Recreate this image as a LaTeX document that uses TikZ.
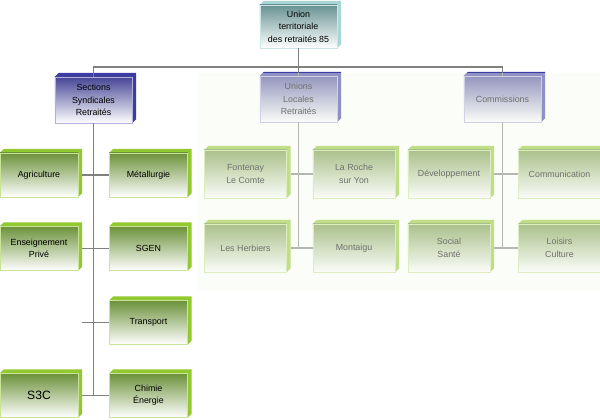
\documentclass[tikz,border=0pt]{standalone}
\usepackage{fontspec}
\setmainfont{Liberation Sans}
\usepackage{tikz}
\usetikzlibrary{positioning}

\definecolor{grtop}{RGB}{108,146,58}
\definecolor{grside}{RGB}{146,200,48}
\definecolor{bltop}{RGB}{70,70,150}
\definecolor{blside}{RGB}{60,60,165}
\definecolor{tltop}{RGB}{104,146,146}
\definecolor{tlside}{RGB}{168,214,214}
\definecolor{linegray}{RGB}{128,128,128}
\definecolor{fadetint}{RGB}{246,250,240}

\tikzset{
	face/.style={append after command={\pgfextra{
		\fill[#1] (\tikzlastnode.north west) -- ++(4,-4)
			-- ([shift={(4,-4)}]\tikzlastnode.north east)
			-- ([shift={(4,-4)}]\tikzlastnode.south east)
			-- (\tikzlastnode.south east) -- (\tikzlastnode.north east) -- cycle;}}},
	box/.style={align=center, inner sep=1pt,
		font=\fontsize{6.3}{8.8}\selectfont},
	greenbox/.style={box, minimum width=1.95cm, minimum height=1.1cm,
		top color=grtop, bottom color=white, draw=grside!50, line width=0.3pt, face=grside},
	greenboxwide/.style={greenbox, minimum width=2.05cm, minimum height=1.2cm},
	bluebox/.style={box, minimum width=1.925cm, minimum height=1.15cm,
		top color=bltop, bottom color=white, draw=blside!40, line width=0.3pt, face=blside},
	topbox/.style={box, minimum width=1.925cm, minimum height=1.075cm,
		top color=tltop, bottom color=white, draw=tlside!60, line width=0.3pt, face=tlside},
	link/.style={draw=linegray, line width=1.1pt}
}

\begin{document}
\begin{tikzpicture}[x=0.025cm,y=-0.025cm]
		\useasboundingbox (0,0) rectangle (600,420);
		\clip (0,0) rectangle (600,420);

		% head and the three branches
		\node[topbox] (union) at (298.5,26.5) {Union\\territoriale\\des retraités 85};
		\node[bluebox] (sections) at (93.5,100) {Sections\\Syndicales\\Retraités};
		\node[bluebox] (unions) at (298.5,99) {Unions\\Locales\\Retraités};
		\node[bluebox] (commissions) at (502.5,99) {Commissions};

		% sections syndicales
		\node[greenbox] (agri) at (39,175) {Agriculture};
		\node[greenbox] (metal) at (148.5,175) {Métallurgie};
		\node[greenbox] (ensei) at (39,248.5) {Enseignement\\Privé};
		\node[greenbox] (sgen) at (148.5,248.5) {SGEN};
		\node[greenbox] (trans) at (148.5,322.5) {Transport};
		\node[greenbox, font=\fontsize{8.6}{10}\selectfont] (s3c) at (39,395.5) {S3C};
		\node[greenbox] (chimie) at (148.5,395.5) {Chimie\\Énergie};

		% unions locales
		\node[greenboxwide] (fonte) at (245.5,174) {Fontenay\\Le Comte};
		\node[greenboxwide] (roche) at (354,174) {La Roche\\sur Yon};
		\node[greenboxwide] (herb) at (245.5,248) {Les Herbiers};
		\node[greenboxwide] (monta) at (354,248) {Montaigu};

		% commissions
		\node[greenboxwide] (devel) at (449,174) {Développement};
		\node[greenboxwide] (commu) at (559.5,174) {Communication};
		\node[greenboxwide] (social) at (449,248) {Social\\Santé};
		\node[greenboxwide] (loisirs) at (559.5,248) {Loisirs\\Culture};

		\draw[link] (union.south) -- ++(0,19) coordinate (bus);
		\draw[link] (sections.north) |- (bus) -| (commissions.north);
		\draw[link] (unions.north) -- (unions.north |- bus);

		\draw[link] (sections.south) -- (sections.south |- chimie.west);
		\draw[link] ([xshift=3pt]agri.east) -- (metal.west);
		\draw[link] ([xshift=3pt]ensei.east) -- (sgen.west);
		\draw[link] (trans.west) -- ++(-27,0);
		\draw[link] ([xshift=3pt]s3c.east) -- (chimie.west);

		\draw[link] (unions.south) -- (unions.south |- monta.west);
		\draw[link] ([xshift=3pt]fonte.east) -- (roche.west);
		\draw[link] ([xshift=3pt]herb.east) -- (monta.west);

		\draw[link] (commissions.south) -- (commissions.south |- loisirs.west);
		\draw[link] ([xshift=3pt]devel.east) -- (commu.west);
		\draw[link] ([xshift=3pt]social.east) -- (loisirs.west);

		% faded part
		\fill[fadetint, opacity=0.45] (197,73) rectangle (600,290);
\end{tikzpicture}
\end{document}
